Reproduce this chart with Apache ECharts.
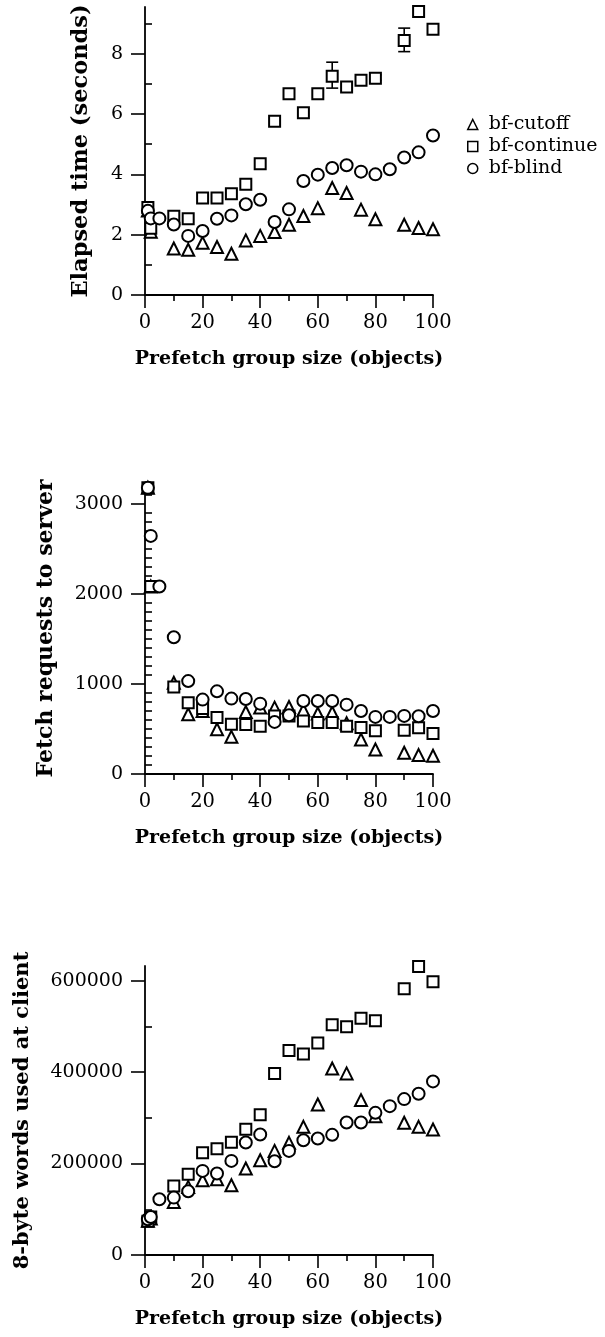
<!DOCTYPE html>
<html>
<head>
<meta charset="utf-8">
<script src="https://cdn.jsdelivr.net/npm/echarts@6.0.0/dist/echarts.min.js"></script>
<style>
html,body{margin:0;padding:0;background:#fff;}
#chart{width:605px;height:1337px;}
</style>
</head>
<body>
<div id="chart"></div>
<script>
// ---- data ----
const seriesNames = ['bf-cutoff', 'bf-continue', 'bf-blind'];
const xMain = [1, 2, 10, 15, 20, 25, 30, 35, 40, 45, 50, 55, 60, 65, 70, 75, 80, 90, 95, 100];
const xBlind = [1, 2, 5, 10, 15, 20, 25, 30, 35, 40, 45, 50, 55, 60, 65, 70, 75, 80, 85, 90, 95, 100];

const elapsedCutoff = [2.8, 2.1, 1.54, 1.50, 1.73, 1.59, 1.37, 1.81, 1.96, 2.09, 2.33, 2.62, 2.88, 3.55, 3.38, 2.83, 2.51, 2.33, 2.22, 2.18];
const elapsedContinue = [2.90, 2.21, 2.61, 2.53, 3.22, 3.22, 3.36, 3.67, 4.35, 5.76, 6.67, 6.04, 6.67, 7.25, 6.90, 7.12, 7.19, 8.44, 9.40, 8.81];
const elapsedBlind = [2.79, 2.54, 2.54, 2.34, 1.96, 2.12, 2.53, 2.64, 3.01, 3.16, 2.42, 2.84, 3.78, 3.99, 4.21, 4.30, 4.09, 4.00, 4.17, 4.56, 4.73, 5.29];
const errX = [65, 80, 90];
const errLow = [6.86, 7.12, 8.07];
const errHigh = [7.72, 7.30, 8.85];

const fetchCutoff = [3181, 2085, 1015, 664, 701, 498, 413, 690, 738, 738, 745, 708, 672, 683, 565, 384, 273, 236, 210, 203];
const fetchContinue = [3181, 2085, 967, 793, 727, 627, 554, 550, 531, 646, 646, 590, 572, 572, 531, 517, 480, 487, 513, 450];
const fetchBlind = [3181, 2647, 2085, 1520, 1033, 827, 919, 838, 834, 782, 579, 653, 812, 812, 812, 771, 701, 635, 635, 646, 642, 701];

const wordsCutoff = [75000, 80000, 116000, 148900, 163500, 165700, 152600, 189100, 207300, 227700, 245300, 280300, 329200, 408000, 397100, 338700, 303600, 289100, 280300, 274500];
const wordsContinue = [73700, 83200, 151000, 176600, 223400, 232100, 246700, 275200, 306600, 397100, 447400, 439400, 463500, 503600, 499300, 517500, 512400, 582500, 630700, 597800];
const wordsBlind = [78100, 83200, 121900, 125500, 139400, 183900, 178100, 205800, 246000, 263500, 205100, 227700, 251100, 254700, 262800, 289800, 289800, 310900, 325500, 340900, 352600, 379600];

const yTitles = ['Elapsed time (seconds)', 'Fetch requests to server', '8-byte words used at client'];
const xTitle = 'Prefetch group size (objects)';
const yMajor = [[0, 2, 4, 6, 8], [0, 1000, 2000, 3000], [0, 200000, 400000, 600000]];
const yMinor = [[1, 3, 5, 7, 9],
  [100, 200, 300, 400, 500, 600, 700, 800, 900, 1100, 1200, 1300, 1400, 1500, 1600, 1700, 1800, 1900, 2100, 2200, 2300, 2400, 2500, 2600, 2700, 2800, 2900, 3100, 3200],
  [100000, 300000, 500000]];
const yMax = [9.55, 3235, 632000];

// ---- layout ----
const FONT = 'DejaVu Serif';
const grids = [
  {left: 145, width: 288, top: 7, height: 288},
  {left: 145, width: 288, top: 483, height: 291},
  {left: 145, width: 288, top: 966, height: 289}
];
const yNameGap = [52, 88, 112];
const yNameSize = [22.5, 22, 21];

const pair = (xs, ys) => xs.map((x, i) => [x, ys[i]]);
const plain = v => String(v);

const xAxes = [], yAxes = [];
grids.forEach((g, i) => {
  xAxes.push({
    type: 'value', gridIndex: i, min: 0, max: 100, interval: 20,
    axisLine: {show: true, onZero: false, lineStyle: {color: '#000', width: 1.8}},
    axisTick: {show: true, length: 13, lineStyle: {color: '#000', width: 1.6}},
    minorTick: {show: true, splitNumber: 2, length: 6, lineStyle: {color: '#000', width: 1.6}},
    splitLine: {show: false},
    axisLabel: {color: '#000', fontFamily: FONT, fontSize: 19.5, margin: 18, formatter: plain},
    name: xTitle, nameLocation: 'middle', nameGap: 55, nameMoveOverlap: false,
    nameTextStyle: {color: '#000', fontFamily: FONT, fontWeight: 'bold', fontSize: 19}
  });
  yAxes.push({
    type: 'value', gridIndex: i, min: 0, max: yMax[i],
    axisLine: {show: true, onZero: false, lineStyle: {color: '#000', width: 1.8}},
    axisTick: {show: true, length: 14, customValues: yMajor[i], lineStyle: {color: '#000', width: 1.6}},
    splitLine: {show: false},
    axisLabel: {color: '#000', fontFamily: FONT, fontSize: 19, margin: 22, customValues: yMajor[i], formatter: plain},
    name: yTitles[i], nameLocation: 'middle', nameGap: yNameGap[i], nameMoveOverlap: false,
    nameTextStyle: {color: '#000', fontFamily: FONT, fontWeight: 'bold', fontSize: yNameSize[i]}
  });
});
grids.forEach((g, i) => {
  yAxes.push({
    type: 'value', gridIndex: i, min: 0, max: yMax[i],
    axisLine: {show: false},
    axisTick: {show: true, length: 7, customValues: yMinor[i], lineStyle: {color: '#000', width: 1.6}},
    splitLine: {show: false},
    axisLabel: {show: false}
  });
});

const symbols = ['triangle', 'rect', 'circle'];
const sizes = [12, 11, 12];
const datasets = [
  [pair(xMain, elapsedCutoff), pair(xMain, elapsedContinue), pair(xBlind, elapsedBlind)],
  [pair(xMain, fetchCutoff), pair(xMain, fetchContinue), pair(xBlind, fetchBlind)],
  [pair(xMain, wordsCutoff), pair(xMain, wordsContinue), pair(xBlind, wordsBlind)]
];

const series = [];
series.push({
  type: 'custom', name: 'err', xAxisIndex: 0, yAxisIndex: 0, z: 1,
  data: errX.map((x, i) => [x, errLow[i], errHigh[i]]),
  encode: {x: 0, y: [1, 2]},
  renderItem: function (params, api) {
    const x = api.value(0), lo = api.value(1), hi = api.value(2);
    const a = api.coord([x, lo]), b = api.coord([x, hi]);
    const w = 6;
    const st = {stroke: '#000', lineWidth: 1.6};
    return {type: 'group', children: [
      {type: 'line', shape: {x1: a[0], y1: a[1], x2: b[0], y2: b[1]}, style: st},
      {type: 'line', shape: {x1: a[0] - w, y1: a[1], x2: a[0] + w, y2: a[1]}, style: st},
      {type: 'line', shape: {x1: b[0] - w, y1: b[1], x2: b[0] + w, y2: b[1]}, style: st}
    ]};
  }
});
datasets.forEach((ds, gi) => {
  ds.forEach((d, si) => {
    series.push({
      type: 'scatter', name: seriesNames[si], xAxisIndex: gi, yAxisIndex: gi, z: 2 + si,
      symbol: symbols[si], symbolSize: sizes[si],
      itemStyle: {color: '#fff', borderColor: '#000', borderWidth: 2, opacity: 1},
      emphasis: {disabled: true},
      data: d
    });
  });
});

const chart = echarts.init(document.getElementById('chart'), null, {renderer: 'canvas'});
chart.setOption({
  animation: false,
  backgroundColor: '#fff',
  grid: grids,
  xAxis: xAxes,
  yAxis: yAxes,
  legend: {
    data: seriesNames, orient: 'vertical', left: 467, top: 115, padding: 0,
    itemWidth: 10, itemHeight: 10, itemGap: 3,
    itemStyle: {borderWidth: 1.5},
    textStyle: {color: '#000', fontFamily: FONT, fontSize: 19, padding: [0, 0, 0, 6]},
    selectedMode: false
  },
  series: series
});
</script>
</body>
</html>
